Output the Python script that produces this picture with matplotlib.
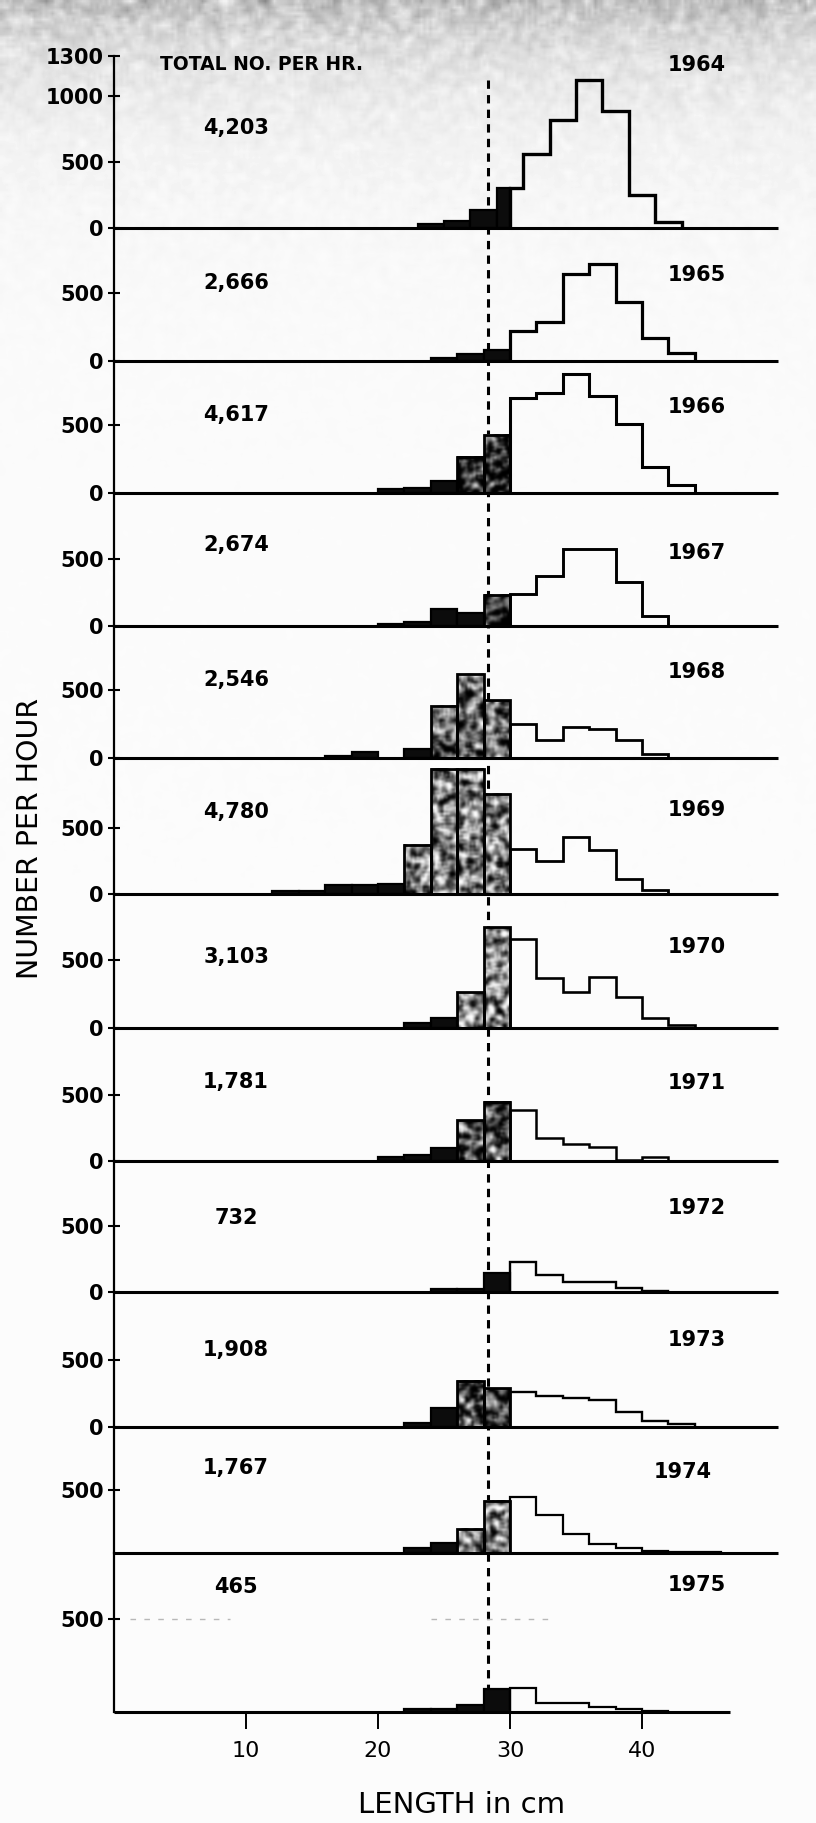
import numpy as np
import matplotlib
matplotlib.use("Agg")
import matplotlib.pyplot as plt
from matplotlib.patches import Rectangle
from matplotlib.lines import Line2D

plt.rcParams['font.family'] = ['DejaVu Sans']
plt.rcParams['lines.scale_dashes'] = False

# ---------------------------------------------------------------- data
YEARS = [1964, 1965, 1966, 1967, 1968, 1969, 1970, 1971, 1972, 1973, 1974, 1975]
TOTAL_PER_HOUR = ["4,203", "2,666", "4,617", "2,674", "2,546", "4,780",
                  "3,103", "1,781", "732", "1,908", "1,767", "465"]

BIN_WIDTH = 2            # cm
# left edge (cm) of the first 2-cm length class in each year
FIRST_EDGE = [23, 24, 20, 20, 16, 12, 22, 20, 24, 22, 22, 22]

COUNTS_1964 = [30, 50, 140, 300, 560, 820, 1120, 890, 250, 45]
COUNTS_1965 = [20, 48, 80, 222, 285, 640, 715, 432, 166, 58]
COUNTS_1966 = [30, 35, 85, 265, 430, 695, 735, 875, 710, 505, 190, 60]
COUNTS_1967 = [15, 29, 130, 100, 235, 240, 370, 575, 575, 330, 75]
COUNTS_1968 = [16, 42, 0, 63, 385, 620, 425, 250, 135, 228, 215, 135, 32]
COUNTS_1969 = [20, 20, 70, 70, 72, 375, 950, 950, 760, 340, 250, 430, 330, 112, 31]
COUNTS_1970 = [38, 76, 263, 740, 655, 365, 263, 377, 225, 76, 25]
COUNTS_1971 = [33, 46, 99, 308, 450, 390, 176, 132, 108, 11, 28]
COUNTS_1972 = [20, 20, 145, 225, 130, 75, 75, 32, 10]
COUNTS_1973 = [31, 144, 347, 288, 259, 235, 220, 205, 115, 43, 21]
COUNTS_1974 = [39, 82, 192, 414, 448, 302, 148, 72, 39, 15, 10, 6]
COUNTS_1975 = [14, 14, 39, 121, 128, 50, 50, 27, 14, 8]
COUNTS = [COUNTS_1964, COUNTS_1965, COUNTS_1966, COUNTS_1967, COUNTS_1968,
          COUNTS_1969, COUNTS_1970, COUNTS_1971, COUNTS_1972, COUNTS_1973,
          COUNTS_1974, COUNTS_1975]

SIZE_LIMIT = 30.0        # cm, classes below are shaded
REFERENCE_LENGTH = 28.3  # cm, dashed line
Y_TICKS = [[0, 500, 1000, 1300]] + [[0, 500]] * 9 + [[500], [500]]
X_TICKS = [10, 20, 30, 40]

# ---------------------------------------------------------------- layout (pixels)
W, H, DPI = 816, 1823, 100
X0 = 114.0               # pixel column of 0 cm
PX_PER_CM = 13.2
X_MAX = 50.3
BASELINE_PX = [228, 361, 493, 626, 758, 894, 1028, 1161, 1292, 1427, 1553, 1712]
PX_PER_500 = [66, 68, 68, 67, 68, 66, 68, 66, 66, 67, 63, 93]
BASE_END = [50.3] * 11 + [46.7]
YEAR_Y = [65, 275, 407, 553, 672, 810, 947, 1083, 1208, 1340, 1472, 1585]
YEAR_X = [697] * 10 + [683, 697]
COUNT_Y = [128, 283, 415, 545, 680, 812, 957, 1082, 1218, 1350, 1468, 1587]
COUNT_X = 236
FILL_TONE = [None, None, 0.12, 0.15, 0.4, 0.5, 0.55, 0.3, None, 0.25, 0.5, None]
OUTLINE_LW = [2.4, 2.3, 2.2, 2.1, 2.0, 2.0, 1.9, 1.8, 1.7, 1.7, 1.6, 1.6]


def fx(px):
    return px / W


def fy(py):
    return 1.0 - py / H


def hash_noise(h, w, ox, oy):
    yy, xx = np.mgrid[0:h, 0:w].astype(float)
    n = np.sin((xx + ox) * 12.9898 + (yy + oy) * 78.233) * 43758.5453
    return n - np.floor(n)


def box_blur(a, r):
    if r <= 0:
        return a
    p = np.pad(a, ((r, r), (0, 0)), mode='edge')
    c = np.vstack([np.zeros((1, p.shape[1])), np.cumsum(p, axis=0)])
    a = (c[2 * r + 1:] - c[:-2 * r - 1]) / (2 * r + 1)
    p = np.pad(a, ((0, 0), (r, r)), mode='edge')
    c = np.hstack([np.zeros((p.shape[0], 1)), np.cumsum(p, axis=1)])
    return (c[:, 2 * r + 1:] - c[:, :-2 * r - 1]) / (2 * r + 1)


def mottled(w_px, h_px, ox, oy, tone, cell=2):
    """Blotchy halftone-like grey texture on a coarse grid."""
    gw = max(int(w_px / cell), 2)
    gh = max(int(h_px / cell), 2)
    s = box_blur(hash_noise(gh, gw, ox, oy), 1)
    s = (s - s.mean()) / (s.std() + 1e-9)
    return np.clip(tone + 0.3 * s, 0, 1)


fig = plt.figure(figsize=(W / DPI, H / DPI), dpi=DPI)
fig.patch.set_facecolor('white')

# greyish scan haze along the top edge of the sheet
coarse = box_blur(hash_noise(H // 3 + 1, W // 3 + 1, 3.0, 7.0), 1)
grain = np.kron(coarse, np.ones((3, 3)))[:H, :W]
grain = box_blur(grain, 1)
grain = (grain - grain.mean()) / grain.std()
yy = np.arange(H, dtype=float)[:, None]
fade = np.exp(-yy / 65.0)
haze = 0.985 - fade * (0.2 + 0.035 * grain) - 0.03 * np.exp(-yy / 200.0) * (1 + 0.3 * grain)
fig.figimage(np.clip(haze, 0, 1), xo=0, yo=0, origin='upper', cmap='gray',
             vmin=0, vmax=1, zorder=-10)

axes = []
for i, year in enumerate(YEARS):
    base = BASELINE_PX[i]
    scale = PX_PER_500[i] / 500.0          # pixels per fish/hour
    if i == 0:
        ymax = 1300.0
        top = base - ymax * scale
    else:
        top = BASELINE_PX[i - 1]
        ymax = (base - top) / scale
    ax = fig.add_axes([fx(X0), fy(base), X_MAX * PX_PER_CM / W, (base - top) / H])
    ax.patch.set_alpha(0)
    for side in ('top', 'right', 'bottom'):
        ax.spines[side].set_visible(False)
    ax.spines['left'].set_linewidth(1.6)
    ax.spines['left'].set_color('black')

    vals = COUNTS[i]
    edges = FIRST_EDGE[i] + BIN_WIDTH * np.arange(len(vals) + 1)

    # shaded classes below the size limit
    for j, v in enumerate(vals):
        left, right = edges[j], edges[j + 1]
        if left >= SIZE_LIMIT or v <= 0:
            continue
        right = min(right, SIZE_LIMIT)
        tone = FILL_TONE[i]
        if tone is not None and v >= 150:
            img = mottled((right - left) * PX_PER_CM, v * scale, left * 37 + i * 101,
                          i * 53 + j * 17, tone)
            ax.imshow(img, extent=(left, right, 0, v), origin='lower', aspect='auto',
                      cmap='gray', vmin=0, vmax=1, interpolation='bicubic', zorder=2)
            ax.add_patch(Rectangle((left, 0), right - left, v, facecolor='none',
                                   edgecolor='black', linewidth=2.0, zorder=3))
        else:
            ax.add_patch(Rectangle((left, 0), right - left, v, facecolor='#0c0c0c',
                                   edgecolor='black', linewidth=1.6, zorder=3))

    # open outline for classes at and above the size limit
    o_edges, o_vals = [SIZE_LIMIT], []
    for j, v in enumerate(vals):
        left, right = edges[j], edges[j + 1]
        if right <= SIZE_LIMIT:
            continue
        o_vals.append(v)
        o_edges.append(right)
    if o_vals:
        ax.stairs(o_vals, o_edges, baseline=0, fill=False, color='black',
                  linewidth=OUTLINE_LW[i], zorder=3)

    # baseline
    ax.plot([0, BASE_END[i]], [0, 0], color='black', linewidth=2.2,
            solid_capstyle='butt', clip_on=False, zorder=4)

    ax.set_xlim(0, X_MAX)
    ax.set_ylim(0, ymax)
    ax.set_yticks(Y_TICKS[i])
    ax.set_yticklabels([str(t) for t in Y_TICKS[i]], fontsize=15, fontweight='bold')
    ax.tick_params(axis='y', direction='inout', length=9, width=1.5, pad=3)
    if i == len(YEARS) - 1:
        ax.set_xticks(X_TICKS)
        ax.set_xticklabels([str(t) for t in X_TICKS], fontsize=16)
        ax.tick_params(axis='x', direction='out', length=12, width=1.4, pad=9)
    else:
        ax.set_xticks([])

    fig.text(fx(YEAR_X[i]), fy(YEAR_Y[i]), str(year), ha='center', va='center',
             fontsize=15, fontweight='bold')
    fig.text(fx(COUNT_X), fy(COUNT_Y[i]), TOTAL_PER_HOUR[i], ha='center', va='center',
             fontsize=15, fontweight='bold')
    axes.append(ax)

# faint remnants of a 500 guide in the last panel
axes[-1].plot([1.2, 8.8], [500, 500], color='#b8b8b8', linewidth=1.0,
              dashes=(4, 6), zorder=1)
axes[-1].plot([24.0, 33.3], [500, 500], color='#b8b8b8', linewidth=1.0,
              dashes=(4, 6), zorder=1)

# dashed reference length through all panels (behind the bars)
xd = fx(X0 + REFERENCE_LENGTH * PX_PER_CM)
fig.add_artist(Line2D([xd, xd], [fy(80), fy(1700)], transform=fig.transFigure,
                      color='black', linewidth=2.2, dashes=(6, 4.5), zorder=-1))

fig.text(fx(262), fy(65), "TOTAL NO. PER HR.", ha='center', va='center',
         fontsize=13.5, fontweight='bold')
fig.text(fx(30), fy(838), "NUMBER PER HOUR", rotation=90, ha='center', va='center',
         fontsize=20.5)
fig.text(fx(462), fy(1805), "LENGTH in cm", ha='center', va='center', fontsize=21)

fig.savefig('out.png', dpi=DPI)
